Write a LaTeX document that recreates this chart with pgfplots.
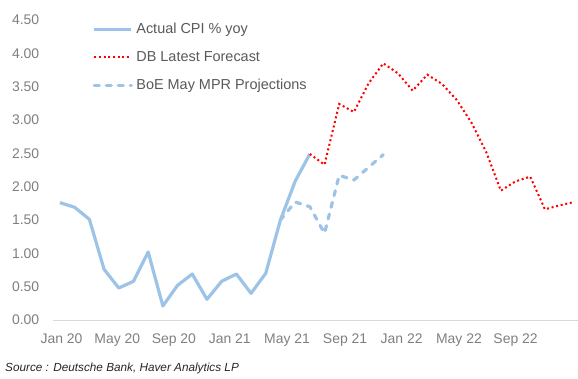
\documentclass[border=0pt]{standalone}
\usepackage{fontspec}
\setmainfont{Liberation Sans}
\usepackage{pgfplots}
\pgfplotsset{compat=1.18}
\definecolor{cpiblue}{HTML}{9DC3E6}
\definecolor{dbred}{HTML}{FF0000}
\definecolor{tickgray}{HTML}{7F7F7F}
\definecolor{leggray}{HTML}{595959}
\definecolor{axisgray}{HTML}{D9D9D9}
\begin{document}
\begin{tikzpicture}
\path[use as bounding box] (0,0) rectangle (578bp,379bp);
\begin{axis}[
  at={(52.65bp,59bp)}, anchor=south west,
  scale only axis, width=525.35bp, height=300bp,
  xmin=-0.5, xmax=35.25, ymin=0, ymax=4.5,
  axis lines*=left,
  y axis line style={draw=none},
  x axis line style={draw=axisgray, line width=0.8bp, -},
  major tick length=0pt,
  ytick={0,0.5,1,1.5,2,2.5,3,3.5,4,4.5},
  /pgf/number format/fixed,
  /pgf/number format/fixed zerofill,
  /pgf/number format/precision=2,
  /pgf/number format/assume math mode=true,
  yticklabel style={anchor=east, inner sep=0pt, xshift=-13.3bp, font=\fontsize{14}{16}\selectfont, text=tickgray},
  xtick={0.1,3.9,7.75,11.55,15.45,19.4,23.25,27.15,31.0},
  xticklabels={Jan 20, May 20, Sep 20, Jan 21, May 21, Sep 21, Jan 22, May 22, Sep 22},
  xticklabel style={anchor=north, inner sep=0pt, yshift=-14bp, font=\fontsize{14}{16}\selectfont, text=tickgray},
  legend cell align=left,
  legend style={draw=none, fill=none, at={(axis description cs:0.0762,0.992)}, anchor=north west,
    inner sep=0pt, outer sep=0pt, font=\fontsize{14.5}{17}\selectfont, text=leggray,
    row sep=14bp, nodes={inner sep=0pt, text height=11bp, text depth=3bp},
    /tikz/every even column/.append style={column sep=0bp},
    /tikz/every odd column/.append style={column sep=3.5bp}},
  legend image code/.code={\draw[#1] (0bp,0bp) -- (37bp,0bp);},
]
\addplot[cpiblue, line width=3.2bp, line join=round] coordinates {
(0,1.76) (1,1.69) (2,1.51) (3,0.76) (4,0.48) (5,0.58) (6,1.02) (7,0.21) (8,0.52)
(9,0.69) (10,0.31) (11,0.58) (12,0.69) (13,0.40) (14,0.70) (15,1.50) (16,2.08) (17,2.49)};
\addlegendentry{Actual CPI \% yoy}
\addplot[dbred, line width=2bp, dash pattern=on 2bp off 2.7bp] coordinates {
(17,2.49) (18,2.33) (19,3.24) (20,3.12) (21,3.55) (22,3.85) (23,3.70) (24,3.44)
(25,3.68) (26,3.54) (27,3.30) (28,2.96) (29,2.52) (30,1.94) (31,2.08) (32,2.15)
(33,1.66) (34,1.72) (35,1.77)};
\addlegendentry{DB Latest Forecast}
\addplot[cpiblue, line width=3.2bp, line cap=round, line join=round, dash pattern=on 5bp off 7bp] coordinates {
(15,1.50) (16,1.77) (17,1.70) (18,1.30) (19,2.17) (20,2.10) (21,2.29) (22,2.48)};
\addlegendentry{BoE May MPR Projections}
\end{axis}
\node[anchor=west, inner sep=0pt, font=\fontsize{11.8}{14}\selectfont\itshape, text=black!85] at (5bp,10.7bp) {Source : Deutsche Bank, Haver Analytics LP};
\end{tikzpicture}
\end{document}
